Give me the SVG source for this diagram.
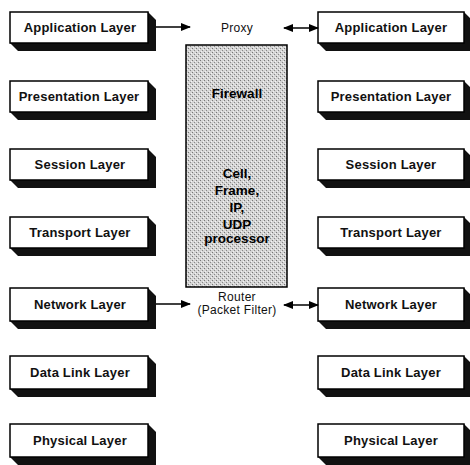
<svg xmlns="http://www.w3.org/2000/svg" width="470" height="465" viewBox="0 0 470 465">
<style>
.face{fill:#fff;stroke:#000;stroke-width:1.5}
.ext{fill:#111}
.lbl{font-family:"Liberation Sans",Arial,sans-serif;font-size:13px;font-weight:bold;letter-spacing:0.2px;fill:#111;text-anchor:middle}
.sm{font-family:"Liberation Sans",Arial,sans-serif;font-size:12px;letter-spacing:0.3px;fill:#111;text-anchor:middle}
.fw{font-family:"Liberation Sans",Arial,sans-serif;font-size:13.5px;font-weight:bold;fill:#000;text-anchor:middle}
.con{stroke:#000;stroke-width:1.5;fill:none}
</style>
<defs>
<pattern id="stip" width="4" height="4" patternUnits="userSpaceOnUse">
<rect width="4" height="4" fill="#d4d4d4"/>
<rect x="0" y="0" width="1" height="1" fill="#777"/>
<rect x="2" y="2" width="1" height="1" fill="#888"/>
<rect x="3" y="1" width="1" height="1" fill="#f4f4f4"/>
<rect x="1" y="3" width="1" height="1" fill="#f0f0f0"/>
</pattern>
<marker id="ah" viewBox="0 0 10 8" refX="9" refY="4" markerWidth="10" markerHeight="8" markerUnits="userSpaceOnUse" orient="auto-start-reverse">
<path d="M0,0 L10,4 L0,8 z" fill="#000"/>
</marker>
</defs>

<g id="firewall">
<rect x="186" y="45" width="101" height="242" fill="url(#stip)" stroke="#000" stroke-width="1.5"/>
<text class="fw" x="237" y="98">Firewall</text>
<text class="fw" x="237" y="178">Cell,</text>
<text class="fw" x="237" y="195">Frame,</text>
<text class="fw" x="237" y="212">IP,</text>
<text class="fw" x="237" y="229">UDP</text>
<text class="fw" x="237" y="243">processor</text>
</g>

<g id="proxy"><text class="sm" x="237" y="32">Proxy</text></g>
<g id="router">
<text class="sm" x="237" y="301">Router</text>
<text class="sm" x="237" y="314">(Packet Filter)</text>
</g>

<g id="left-application">
<polygon class="ext" points="148,12 156,20 156,51 18,51 10,43 148,43"/>
<rect class="face" x="10" y="12" width="138" height="31"/>
<text class="lbl" x="80" y="32">Application Layer</text>
</g>
<g id="left-presentation">
<polygon class="ext" points="148,81 156,89 156,120 18,120 10,112 148,112"/>
<rect class="face" x="10" y="81" width="138" height="31"/>
<text class="lbl" x="79" y="101">Presentation Layer</text>
</g>
<g id="left-session">
<polygon class="ext" points="148,149 156,157 156,188 18,188 10,180 148,180"/>
<rect class="face" x="10" y="149" width="138" height="31"/>
<text class="lbl" x="80" y="169">Session Layer</text>
</g>
<g id="left-transport">
<polygon class="ext" points="148,217 156,225 156,256 18,256 10,248 148,248"/>
<rect class="face" x="10" y="217" width="138" height="31"/>
<text class="lbl" x="80" y="237">Transport Layer</text>
</g>
<g id="left-network">
<polygon class="ext" points="148,288 156,296 156,329 18,329 10,321 148,321"/>
<rect class="face" x="10" y="288" width="138" height="33"/>
<text class="lbl" x="80" y="309">Network Layer</text>
</g>
<g id="left-datalink">
<polygon class="ext" points="148,356 156,364 156,397 18,397 10,389 148,389"/>
<rect class="face" x="10" y="356" width="138" height="33"/>
<text class="lbl" x="80" y="377">Data Link Layer</text>
</g>
<g id="left-physical">
<polygon class="ext" points="148,424 156,432 156,465 18,465 10,457 148,457"/>
<rect class="face" x="10" y="424" width="138" height="33"/>
<text class="lbl" x="80" y="445">Physical Layer</text>
</g>

<g id="right-application">
<polygon class="ext" points="464,12 472,20 472,51 326,51 318,43 464,43"/>
<rect class="face" x="318" y="12" width="146" height="31"/>
<text class="lbl" x="391" y="32">Application Layer</text>
</g>
<g id="right-presentation">
<polygon class="ext" points="464,81 472,89 472,120 326,120 318,112 464,112"/>
<rect class="face" x="318" y="81" width="146" height="31"/>
<text class="lbl" x="391" y="101">Presentation Layer</text>
</g>
<g id="right-session">
<polygon class="ext" points="464,149 472,157 472,188 326,188 318,180 464,180"/>
<rect class="face" x="318" y="149" width="146" height="31"/>
<text class="lbl" x="391" y="169">Session Layer</text>
</g>
<g id="right-transport">
<polygon class="ext" points="464,217 472,225 472,256 326,256 318,248 464,248"/>
<rect class="face" x="318" y="217" width="146" height="31"/>
<text class="lbl" x="391" y="237">Transport Layer</text>
</g>
<g id="right-network">
<polygon class="ext" points="464,288 472,296 472,329 326,329 318,321 464,321"/>
<rect class="face" x="318" y="288" width="146" height="33"/>
<text class="lbl" x="391" y="309">Network Layer</text>
</g>
<g id="right-datalink">
<polygon class="ext" points="464,356 472,364 472,397 326,397 318,389 464,389"/>
<rect class="face" x="318" y="356" width="146" height="33"/>
<text class="lbl" x="391" y="377">Data Link Layer</text>
</g>
<g id="right-physical">
<polygon class="ext" points="464,424 472,432 472,465 326,465 318,457 464,457"/>
<rect class="face" x="318" y="424" width="146" height="33"/>
<text class="lbl" x="391" y="445">Physical Layer</text>
</g>

<g id="connectors">
<line class="con" x1="156" y1="27" x2="190" y2="27" marker-end="url(#ah)"/>
<line class="con" x1="284" y1="28" x2="318" y2="28" marker-start="url(#ah)" marker-end="url(#ah)"/>
<line class="con" x1="156" y1="304" x2="190" y2="304" marker-end="url(#ah)"/>
<line class="con" x1="284" y1="305" x2="318" y2="305" marker-start="url(#ah)" marker-end="url(#ah)"/>
</g>
</svg>
